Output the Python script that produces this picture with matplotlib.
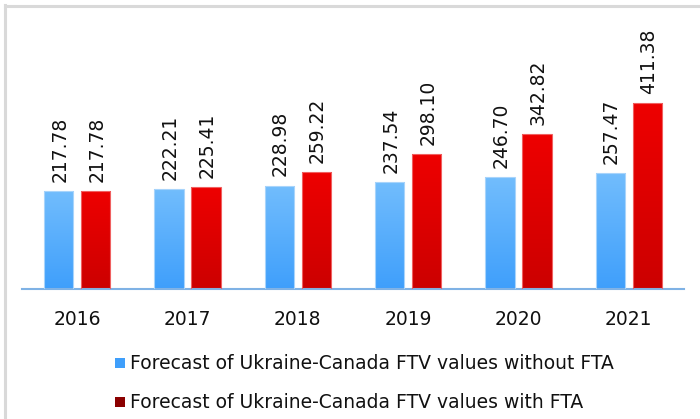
import numpy as np
import matplotlib
matplotlib.use("Agg")
import matplotlib.pyplot as plt
from matplotlib.colors import LinearSegmentedColormap
from matplotlib.patches import Rectangle

years = ["2016", "2017", "2018", "2019", "2020", "2021"]
without_fta = [217.78, 222.21, 228.98, 237.54, 246.70, 257.47]
with_fta = [217.78, 225.41, 259.22, 298.10, 342.82, 411.38]
labels = ["Forecast of Ukraine-Canada FTV values without FTA",
          "Forecast of Ukraine-Canada FTV values with FTA"]

W, H = 700, 419
fig = plt.figure(figsize=(W / 100, H / 100), dpi=100)
fig.patch.set_facecolor("white")

# outer frame (gray border at left and top)
fig.add_artist(plt.Line2D([5 / W, 5 / W], [0, 1 - 5 / H], color="#d9d9d9", lw=2.2,
                          transform=fig.transFigure))
fig.add_artist(plt.Line2D([5 / W, 1], [1 - 6 / H, 1 - 6 / H], color="#d9d9d9", lw=2.2,
                          transform=fig.transFigure))

ymax = 600
px_per_unit = 0.452
ax_bottom = 289
ax_height = ymax * px_per_unit
ax = fig.add_axes([22 / W, 1 - ax_bottom / H, (684 - 22) / W, ax_height / H])
ax.set_xlim(-0.5, len(years) - 0.5)
ax.set_ylim(0, ymax)
for s in ["top", "right", "left"]:
    ax.spines[s].set_visible(False)
ax.spines["bottom"].set_color("#7fb2e5")
ax.spines["bottom"].set_linewidth(1.5)
ax.set_yticks([])
ax.set_xticks(range(len(years)))
ax.set_xticklabels(years, fontsize=13.5, color="#111111")
ax.tick_params(axis="x", length=0, pad=15)

blue_cmap = LinearSegmentedColormap.from_list("b", ["#3f9ffb", "#72bdfd"])
red_cmap = LinearSegmentedColormap.from_list("r", ["#cc0000", "#ee0000"])

bw = 0.265
off = 0.168
grad = np.linspace(0, 1, 256).reshape(-1, 1)
x = np.arange(len(years))

def draw(series, dx, cmap, edge):
    bars = ax.bar(x + dx, series, width=bw, color="none", edgecolor=edge, linewidth=0.8, zorder=3)
    for b, v in zip(bars, series):
        x0 = b.get_x()
        im = ax.imshow(grad, extent=[x0, x0 + bw, 0, v], origin="lower", cmap=cmap,
                       aspect="auto", zorder=2)
        im.set_clip_path(b)
        ax.text(x0 + bw / 2 + 0.01, v + 20, f"{v:.2f}", rotation=90, ha="center", va="bottom",
                fontsize=13.5, color="#111111")

draw(without_fta, -off, blue_cmap, "#a8d4fb")
draw(with_fta, off, red_cmap, "#f06060")
ax.set_xlim(-0.5, len(years) - 0.5)
ax.set_ylim(0, ymax)

# legend
leg_colors = ["#3f9ffb", "#8b0000"]
rows_y = [363, 402]
for c, lab, yy in zip(leg_colors, labels, rows_y):
    fig.add_artist(Rectangle((115 / W, 1 - (yy + 5) / H), 10 / W, 10 / H, facecolor=c,
                             edgecolor="none", transform=fig.transFigure))
    fig.text(130 / W, 1 - yy / H, lab, ha="left", va="center", fontsize=13.5, color="#111111")

fig.savefig("out.png", dpi=100, facecolor="white")
